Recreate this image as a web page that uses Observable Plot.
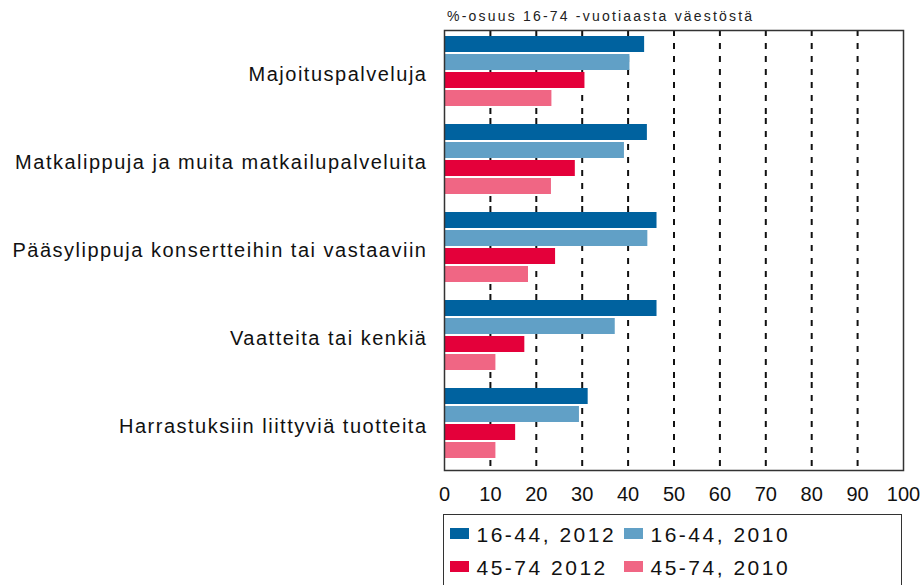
<!DOCTYPE html>
<html><head><meta charset="utf-8">
<script src="https://cdn.jsdelivr.net/npm/d3@7"></script>
<script src="https://cdn.jsdelivr.net/npm/@observablehq/plot@0.6"></script>
<style>
body{margin:0;background:#fff;font-family:"Liberation Sans",Arial,sans-serif;}
#wrap{position:relative;width:922px;height:585px;overflow:hidden;background:#fff;}
#sub{position:absolute;left:447px;top:9px;font-size:14px;line-height:14px;letter-spacing:2.2px;color:#222;white-space:nowrap;}
#chart{position:absolute;left:0;top:0;}
#legend{position:absolute;left:443px;top:514px;width:459px;height:100px;border:1.5px solid #333;box-sizing:border-box;}
.item{position:absolute;font-size:21px;line-height:21px;letter-spacing:2.5px;white-space:nowrap;color:#111;}
.sw{position:absolute;width:19px;height:11px;}
#chart g[aria-label="fy-axis tick label"] text{letter-spacing:1.5px;}
</style>
</head><body>
<div id="wrap">
  <div id="chart"></div>
  <div id="sub"></div>
  <div id="legend"></div>
</div>
<script>
const subtitle = "%-osuus 16-74 -vuotiaasta väestöstä";
const categories = [
  "Majoituspalveluja",
  "Matkalippuja ja muita matkailupalveluita",
  "Pääsylippuja konsertteihin tai vastaaviin",
  "Vaatteita tai kenkiä",
  "Harrastuksiin liittyviä tuotteita"
];
const series = ["16-44, 2012", "16-44, 2010", "45-74 2012", "45-74, 2010"];
const colors = ["#00629f", "#61a0c6", "#e4003a", "#f06684"];
const v1644_2012 = [43.6, 44.2, 46.3, 46.3, 31.3];
const v1644_2010 = [40.4, 39.2, 44.3, 37.2, 29.4];
const v4574_2012 = [30.6, 28.5, 24.2, 17.5, 15.5];
const v4574_2010 = [23.4, 23.3, 18.3, 11.2, 11.2];
const xTicks = [0, 10, 20, 30, 40, 50, 60, 70, 80, 90, 100];

const seriesValues = [v1644_2012, v1644_2010, v4574_2012, v4574_2010];
const rows = [];
categories.forEach((c, i) => {
  series.forEach((s, j) => rows.push({category: c, series: s, value: seriesValues[j][i]}));
});

const chart = Plot.plot({
  width: 922, height: 505,
  marginLeft: 444, marginRight: 19, marginTop: 30, marginBottom: 35,
  style: {fontFamily: "'Liberation Sans', Arial, sans-serif", fontSize: "20px", color: "#111", background: "transparent"},
  x: {domain: [0, 100], ticks: xTicks, tickSize: 0, tickPadding: 16, label: null},
  fy: {domain: categories, paddingInner: 0, paddingOuter: 0, label: null, axis: "left", tickSize: 0, tickPadding: 17},
  y: {domain: series, axis: null, paddingInner: 0.12, paddingOuter: 0.413, align: 0.32},
  color: {domain: series, range: colors},
  marks: [
    Plot.ruleX(xTicks.filter(t => t > 0 && t < 100), {stroke: "#111", strokeWidth: 2, strokeDasharray: "6,7"}),
    Plot.barX(rows, {x: "value", y: "series", fy: "category", fill: "series"}),
    Plot.frame({stroke: "#333", strokeWidth: 1.5, facet: "super"})
  ]
});
document.getElementById("chart").appendChild(chart);
document.getElementById("sub").textContent = subtitle;

const legend = d3.select("#legend");
series.forEach((s, i) => {
  const c = i % 2, r = Math.floor(i / 2);
  const sx = 5.5 + 174 * c;
  const base = 26.5 + 33 * r;
  legend.append("div").attr("class", "sw")
    .style("left", sx + "px").style("top", (base - 14) + "px")
    .style("background", colors[i]);
  legend.append("div").attr("class", "item")
    .style("left", (sx + 27) + "px").style("top", (base - 17.8) + "px")
    .text(s);
});
</script>
</body></html>
